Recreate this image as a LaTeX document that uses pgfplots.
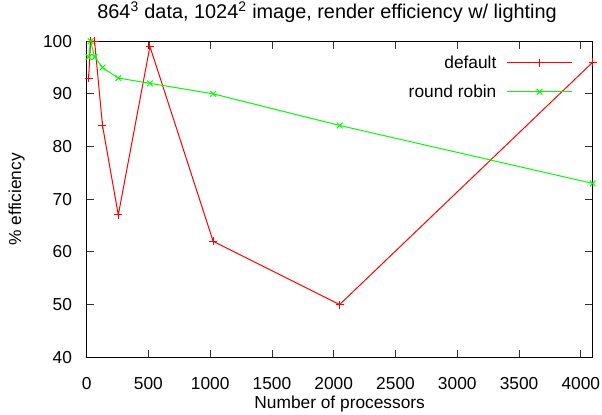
\documentclass[border=0pt]{standalone}
\usepackage{fontspec}
\setmainfont{Liberation Sans}
\usepackage{pgfplots}
\pgfplotsset{compat=1.18}
\definecolor{gpred}{RGB}{255,0,0}
\definecolor{gpgreen}{RGB}{0,255,0}
\begin{document}
\fontsize{13pt}{15pt}\selectfont
\begin{tikzpicture}
\begin{axis}[name=ax, scale only axis, width=379.5pt, height=237pt,
 xmin=0, xmax=4096, ymin=40, ymax=100,
 xtick={0,500,...,4000}, ytick={40,50,...,100},
 tick align=inside, major tick length=5.5pt,
 axis line style={line width=0.9pt},
 tick style={black!80, line width=0.7pt},
 /pgf/number format/assume math mode=true,
 /pgf/number format/1000 sep={},
 tick label style={font=\fontsize{13pt}{15pt}\selectfont, inner sep=0pt},
 xticklabel style={anchor=base, yshift=-24pt},
 yticklabel style={anchor=east, xshift=-10.8pt},
 xlabel={Number of processors},
 ylabel={\% efficiency},
 xlabel style={at={(axis description cs:0.5,-0.161)}, anchor=base, inner sep=0pt},
 ylabel style={at={(axis description cs:-0.1383,0.5)}, anchor=center, inner sep=0pt},
 title={864\textsuperscript{3} data, 1024\textsuperscript{2} image, render efficiency w/ lighting},
 every axis title shift=0pt,
 title style={at={(axis description cs:0.475,1.0718)}, anchor=base, inner sep=0pt, font=\fontsize{14.9pt}{17pt}\selectfont},
 label style={font=\fontsize{13pt}{15pt}\selectfont},
 clip=false,
]
\addplot[color=gpred, line width=0.75pt, mark=+, mark size=3pt] coordinates {
(16,93) (32,100) (64,100) (128,84) (256,67) (512,99) (1024,62) (2048,50) (4096,96)};
\addplot[color=gpgreen, line width=0.75pt, mark=x, mark size=3pt] coordinates {
(16,97) (32,100) (64,97) (128,95) (256,93) (512,92) (1024,90) (2048,84) (4096,73)};
% legend samples
\addplot[color=gpred, line width=0.75pt, mark=+, mark size=3pt, mark repeat=2, mark phase=2] coordinates {
(3402,95.9) (3666,95.9) (3930,95.9)};
\addplot[color=gpgreen, line width=0.75pt, mark=x, mark size=3pt, mark repeat=2, mark phase=2] coordinates {
(3402,90.4) (3666,90.4) (3930,90.4)};
\node[anchor=east, inner sep=0pt, font=\fontsize{13pt}{15pt}\selectfont] at (axis cs:3319,95.9) {default};
\node[anchor=east, inner sep=0pt, font=\fontsize{13pt}{15pt}\selectfont] at (axis cs:3319,90.4) {round robin};
\end{axis}
\pgfresetboundingbox
\path[use as bounding box] ([xshift=-65pt,yshift=-43.3pt]ax.south west) rectangle ([xshift=7pt,yshift=30.9pt]ax.north east);
\end{tikzpicture}
\end{document}
